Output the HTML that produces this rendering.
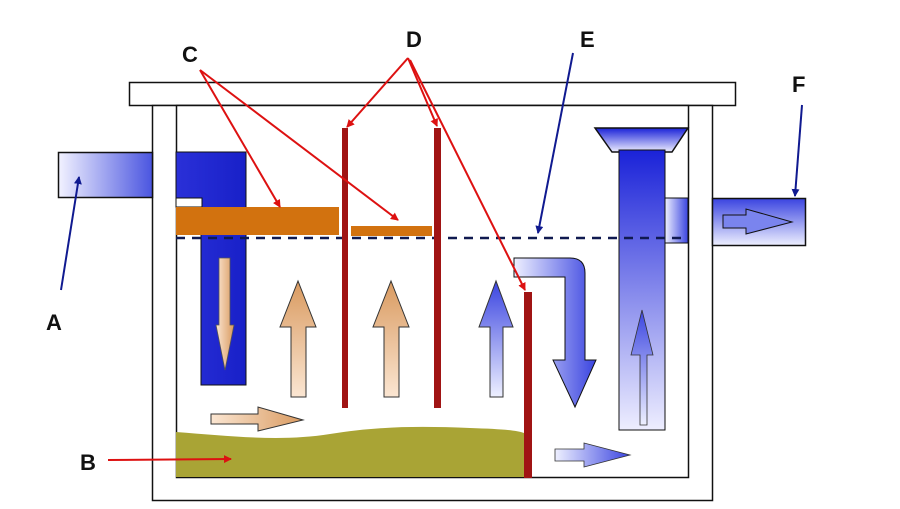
<!DOCTYPE html>
<html><head><meta charset="utf-8"><style>
html,body{margin:0;padding:0;background:#fff;}
svg{display:block;}
text{font-family:"Liberation Sans",sans-serif;font-weight:bold;font-size:22px;fill:#111;}
</style></head><body>
<svg width="900" height="509" viewBox="0 0 900 509">
<defs>
<linearGradient id="gh" x1="0" x2="1" y1="0" y2="0"><stop offset="0" stop-color="#f2f2ff"/><stop offset="1" stop-color="#4a55e0"/></linearGradient>
<linearGradient id="gv" x1="0" x2="0" y1="0" y2="1"><stop offset="0" stop-color="#1a22d8"/><stop offset="1" stop-color="#eeeeff"/></linearGradient>
<linearGradient id="gb" x1="0" x2="1" y1="0" y2="0"><stop offset="0" stop-color="#2a30d8"/><stop offset="1" stop-color="#1820c8"/></linearGradient>
<linearGradient id="ga" x1="0" x2="1" y1="0" y2="0"><stop offset="0" stop-color="#eef0ff"/><stop offset="1" stop-color="#3a44e0"/></linearGradient>
<linearGradient id="gav" x1="0" x2="0" y1="0" y2="1"><stop offset="0" stop-color="#3a44e0"/><stop offset="1" stop-color="#eef0ff"/></linearGradient>
<linearGradient id="go" x1="0" x2="1" y1="0" y2="0"><stop offset="0" stop-color="#fbe6d2"/><stop offset="1" stop-color="#d99a60"/></linearGradient>
<linearGradient id="gov" x1="0" x2="0" y1="0" y2="1"><stop offset="0" stop-color="#d99a60"/><stop offset="1" stop-color="#fbe6d2"/></linearGradient>
<marker id="mr" markerWidth="8" markerHeight="8" refX="7" refY="4" orient="auto" markerUnits="userSpaceOnUse"><path d="M0,0 L8,4 L0,8 z" fill="#dd1111"/></marker>
<marker id="mb" markerWidth="8" markerHeight="8" refX="7" refY="4" orient="auto" markerUnits="userSpaceOnUse"><path d="M0,0 L8,4 L0,8 z" fill="#101a90"/></marker>
</defs>
<!-- tank -->
<rect x="129.5" y="82.5" width="606" height="23" fill="#fff" stroke="#111" stroke-width="1.5"/>
<rect x="152.5" y="105.5" width="560" height="395" fill="#fff" stroke="#111" stroke-width="1.5"/>
<rect x="176.5" y="105.5" width="512" height="372" fill="#fff" stroke="#111" stroke-width="1.5"/>
<!-- inlet -->
<rect x="58.5" y="152.5" width="94" height="45" fill="url(#gh)" stroke="#111" stroke-width="1.5"/>
<path d="M176,152 H246 V385 H201 V207 H176 Z" fill="url(#gb)" stroke="#111" stroke-width="1"/>
<rect x="176" y="198" width="26" height="9" fill="#fff" stroke="#111" stroke-width="1"/>
<!-- sludge -->
<path d="M176,432 C230,436 280,442 330,434 C380,426 420,426 470,428 C500,429 515,430 524,433 V477 H176 Z" fill="#a9a435"/>
<!-- orange baffles -->
<rect x="176" y="207" width="163" height="28" fill="#d2720f"/>
<rect x="351" y="226" width="81" height="10" fill="#d2720f"/>
<!-- outlet tower -->
<path d="M595,128 H688 L672,152 H612 Z" fill="url(#gv)" stroke="#111" stroke-width="1.5"/>
<rect x="619" y="150" width="46" height="280" fill="url(#gv)" stroke="#111" stroke-width="1"/>
<rect x="665" y="198" width="23" height="45" fill="url(#ga)" stroke="#111" stroke-width="1"/>
<rect x="712.5" y="198.5" width="93" height="47" fill="url(#gav)" stroke="#111" stroke-width="1.5"/>
<path d="M723,215 H746 V209 L792,222 L746,234 V228 H723 Z" fill="url(#go)" style="fill:#7a84ee" stroke="#111" stroke-width="1"/>
<!-- dashed level -->
<line x1="176" y1="238" x2="688" y2="238" stroke="#101a50" stroke-width="2.5" stroke-dasharray="9,7"/>
<!-- red baffles -->
<rect x="342" y="128" width="6" height="280" fill="#a01414"/>
<rect x="434" y="128" width="7" height="280" fill="#a01414"/>
<rect x="524" y="292" width="8" height="186" fill="#a01414"/>
<!-- bent pipe -->
<path d="M514,258 H570 Q585,258 585,273 V360 H596 L575,407 L553,360 H565 V277 H514 Z" fill="url(#ga)" stroke="#111" stroke-width="1"/>
<!-- arrows -->
<path d="M219,258 H230 V325 H234 L225,370 L216,325 H219 Z" fill="url(#go)" stroke="#555" stroke-width="0.8"/>
<path d="M291,397 V327 H280 L298,281 L316,327 H306 V397 Z" fill="url(#gov)" stroke="#333" stroke-width="1"/>
<path d="M384,397 V327 H373 L391,281 L409,327 H399 V397 Z" fill="url(#gov)" stroke="#333" stroke-width="1"/>
<path d="M490,397 V327 H479 L496,281 L513,327 H503 V397 Z" fill="url(#gav)" stroke="#333" stroke-width="1"/>
<path d="M211,414 H258 V407 L303,420 L258,431 V424 H211 Z" fill="url(#go)" stroke="#333" stroke-width="1"/>
<path d="M555,449 H584 V443 L630,455 L584,467 V461 H555 Z" fill="url(#ga)" stroke="#333" stroke-width="0.8"/>
<path d="M640,425 V355 H631 L642,310 L653,355 H647 V425 Z" fill="url(#gav)" stroke="#333" stroke-width="0.8"/>
<!-- labels -->
<text x="182" y="62">C</text>
<text x="406" y="47">D</text>
<text x="580" y="47">E</text>
<text x="792" y="92">F</text>
<text x="46" y="330">A</text>
<text x="80" y="470">B</text>
<!-- leader lines -->
<g stroke="#dd1111" stroke-width="2" fill="none">
<line x1="200" y1="70" x2="280" y2="207" marker-end="url(#mr)"/>
<line x1="200" y1="70" x2="398" y2="220" marker-end="url(#mr)"/>
<line x1="408" y1="58" x2="347" y2="127" marker-end="url(#mr)"/>
<line x1="408" y1="58" x2="437" y2="126" marker-end="url(#mr)"/>
<line x1="410" y1="60" x2="525" y2="290" marker-end="url(#mr)"/>
<line x1="108" y1="460" x2="231" y2="459" marker-end="url(#mr)"/>
</g>
<g stroke="#101a90" stroke-width="2" fill="none">
<line x1="573" y1="53" x2="538" y2="233" marker-end="url(#mb)"/>
<line x1="802" y1="105" x2="795" y2="196" marker-end="url(#mb)"/>
<line x1="61" y1="290" x2="79" y2="177" marker-end="url(#mb)"/>
</g>
</svg>
</body></html>
